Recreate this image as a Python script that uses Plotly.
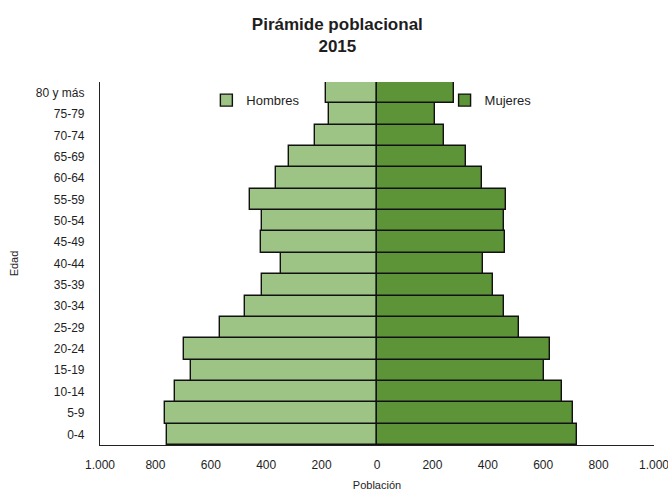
import plotly.graph_objects as go

# Age groups, youngest at the bottom
grupos = ["0-4", "5-9", "10-14", "15-19", "20-24", "25-29", "30-34", "35-39",
          "40-44", "45-49", "50-54", "55-59", "60-64", "65-69", "70-74",
          "75-79", "80 y más"]
hombres = [758, 764, 730, 671, 698, 568, 478, 416, 346, 418, 416, 460,
           364, 316, 223, 172, 184]
mujeres = [721, 708, 669, 603, 623, 511, 458, 419, 383, 461, 458, 467,
           378, 323, 243, 209, 279]

tick_vals = [-1000, -800, -600, -400, -200, 0, 200, 400, 600, 800, 1000]
tick_text = ["1.000", "800", "600", "400", "200", "0", "200", "400", "600", "800", "1.000"]

FONT = "Liberation Sans Narrow, Arial Narrow, Liberation Sans, sans-serif"
TXT = "#1e1e1e"

fig = go.Figure()
fig.add_trace(go.Bar(
    y=grupos, x=[-v for v in hombres], orientation="h", name="Hombres",
    marker=dict(color="#9dc385", line=dict(color="#111111", width=1.4)),
    customdata=hombres, hovertemplate="%{y}: %{customdata}<extra>Hombres</extra>",
    legend="legend", showlegend=True,
))
fig.add_trace(go.Bar(
    y=grupos, x=mujeres, orientation="h", name="Mujeres",
    marker=dict(color="#5e9438", line=dict(color="#111111", width=1.4)),
    hovertemplate="%{y}: %{x}<extra>Mujeres</extra>",
    legend="legend2", showlegend=True,
))

fig.update_layout(
    width=668, height=497,
    margin=dict(l=100, r=14, t=82, b=52, autoexpand=False),
    paper_bgcolor="white", plot_bgcolor="white",
    barmode="relative", bargap=0, showlegend=True,
    font=dict(family=FONT, size=12, color=TXT),
    title=dict(
        text="<b>Pirámide poblacional<br>2015</b>",
        x=0.505, xanchor="center", y=0.94, yanchor="middle",
        font=dict(family=FONT, size=17, color=TXT),
    ),
    legend=dict(
        x=0.192, y=0.95, xanchor="left", yanchor="middle",
        bgcolor="rgba(0,0,0,0)", font=dict(family=FONT, size=13, color=TXT),
        itemwidth=30,
    ),
    legend2=dict(
        x=0.622, y=0.95, xanchor="left", yanchor="middle",
        bgcolor="rgba(0,0,0,0)", font=dict(family=FONT, size=13, color=TXT),
        itemwidth=30,
    ),
    xaxis=dict(
        range=[-1000, 1000], tickvals=tick_vals, ticktext=tick_text,
        showgrid=False, zeroline=True, zerolinecolor="#111111", zerolinewidth=2,
        showline=True, linecolor="#222222", linewidth=1.2, automargin=False,
        tickfont=dict(family=FONT, size=12, color=TXT), ticks="",
        ticklabelstandoff=8, ticklabeloverflow="allow",
        title=dict(text="Población", font=dict(family=FONT, size=11, color=TXT), standoff=10),
    ),
    yaxis=dict(
        categoryorder="array", categoryarray=grupos, range=[-0.5, 16.5],
        showgrid=False, showline=True, linecolor="#222222", linewidth=1.2,
        automargin=False,
        tickfont=dict(family=FONT, size=12, color=TXT), ticks="",
        ticklabelstandoff=12,
        title=dict(text="Edad", font=dict(family=FONT, size=11, color=TXT), standoff=14),
    ),
)

fig.write_html("out.html")
